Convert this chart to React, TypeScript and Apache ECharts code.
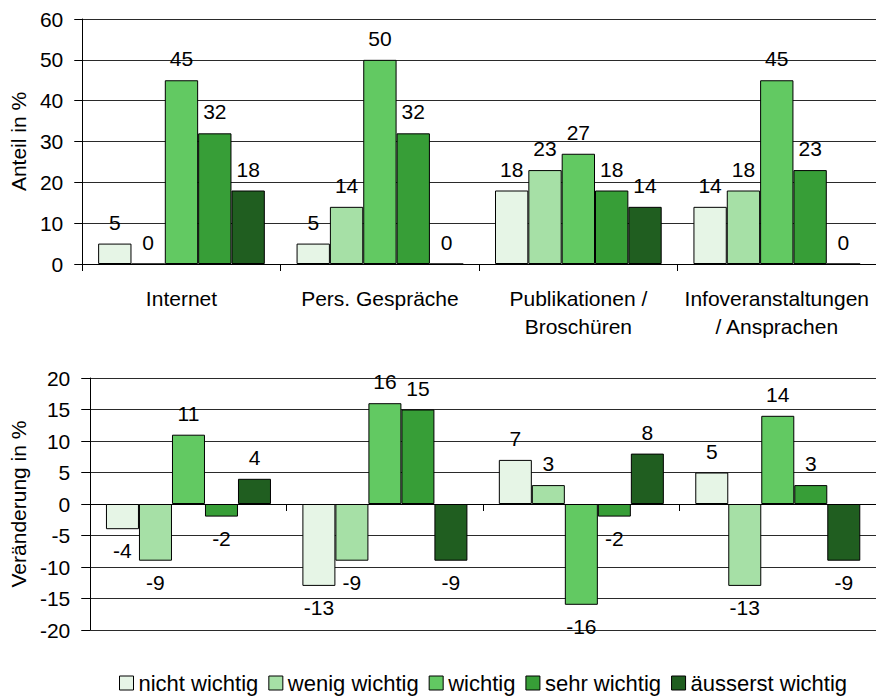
import React, { useEffect, useRef } from "react";
import * as echarts from "echarts";

// Information channels (category axis of both panels)
const categories = [
  "Internet",
  "Pers. Gespräche",
  "Publikationen /\nBroschüren",
  "Infoveranstaltungen\n/ Ansprachen",
];

// Importance levels and their fills
const levels = [
  "nicht wichtig",
  "wenig wichtig",
  "wichtig",
  "sehr wichtig",
  "äusserst wichtig",
];
const levelColors = ["#e6f5e6", "#a6e0a6", "#62c962", "#379e37", "#205e20"];

// Upper panel: share in %
const shareNicht = [5, 5, 18, 14];
const shareWenig = [0, 14, 23, 18];
const shareWichtig = [45, 50, 27, 45];
const shareSehr = [32, 32, 18, 23];
const shareAeusserst = [18, 0, 14, 0];

// Lower panel: change in percentage points
const changeNicht = [-4, -13, 7, 5];
const changeWenig = [-9, -9, 3, -13];
const changeWichtig = [11, 16, -16, 14];
const changeSehr = [-2, 15, -2, 3];
const changeAeusserst = [4, -9, 8, -9];

// Axis ranges
const shareAxis = { min: 0, max: 60, interval: 10 };
const changeAxis = { min: -20, max: 20, interval: 5 };

const shareSeries = [shareNicht, shareWenig, shareWichtig, shareSehr, shareAeusserst];
const changeSeries = [changeNicht, changeWenig, changeWichtig, changeSehr, changeAeusserst];

const FONT = "'Liberation Sans', Arial, sans-serif";
const TEXT = "#000";

export default function App() {
  const ref = useRef<HTMLDivElement>(null);

  useEffect(() => {
    if (!ref.current) return;
    const chart = echarts.init(ref.current, null, { renderer: "svg" });

    const gridLine = { show: true, lineStyle: { color: "#2a2a2a", width: 1 } };
    const axisLine = { show: true, lineStyle: { color: "#000", width: 1 } };

    const makeBars = (values: number[][], gridIndex: number) =>
      values.map((vals, i) => ({
        name: levels[i],
        type: "bar",
        xAxisIndex: gridIndex,
        yAxisIndex: gridIndex,
        barGap: "0%",
        barCategoryGap: "16%",
        itemStyle: { color: levelColors[i], borderColor: "#000", borderWidth: 1 },
        label: {
          show: true,
          color: TEXT,
          fontFamily: FONT,
          fontSize: 21,
          distance: 11,
        },
        data: vals.map((v) => ({
          value: v,
          label: { position: v < 0 ? "bottom" : "top" },
        })),
      }));

    chart.setOption({
      animation: false,
      backgroundColor: "#fff",
      textStyle: { fontFamily: FONT, color: TEXT },
      legend: {
        data: levels,
        left: 119,
        top: 672,
        padding: 0,
        icon: "rect",
        itemWidth: 14,
        itemHeight: 14,
        itemGap: 10,
        textStyle: { fontFamily: FONT, fontSize: 22, color: TEXT },
        itemStyle: { borderColor: "#000", borderWidth: 1 },
      },
      grid: [
        { left: 76, top: 19, width: 809, height: 245, containLabel: false },
        { left: 82, top: 378, width: 802, height: 252, containLabel: false },
      ],
      xAxis: [
        {
          type: "category",
          gridIndex: 0,
          data: categories,
          axisLine,
          axisTick: { show: true, length: 7, lineStyle: { color: "#000" } },
          axisLabel: {
            interval: 0,
            margin: 20,
            fontFamily: FONT,
            fontSize: 21,
            lineHeight: 28,
            color: TEXT,
          },
        },
        {
          type: "category",
          gridIndex: 1,
          data: categories,
          axisLine,
          axisTick: { show: true, length: 7, lineStyle: { color: "#000" } },
          axisLabel: { show: false },
        },
      ],
      yAxis: [
        {
          type: "value",
          gridIndex: 0,
          ...shareAxis,
          name: "Anteil in %",
          nameLocation: "middle",
          nameRotate: 90,
          nameGap: 42,
          nameTextStyle: { fontFamily: FONT, fontSize: 21, color: TEXT },
          axisLine,
          axisTick: { show: true, length: 8, lineStyle: { color: "#000" } },
          axisLabel: { margin: 19, fontFamily: FONT, fontSize: 21, color: TEXT },
          splitLine: gridLine,
        },
        {
          type: "value",
          gridIndex: 1,
          ...changeAxis,
          name: "Veränderung in %",
          nameLocation: "middle",
          nameRotate: 90,
          nameGap: 47,
          nameTextStyle: { fontFamily: FONT, fontSize: 21, color: TEXT },
          axisLine,
          axisTick: { show: true, length: 9, lineStyle: { color: "#000" } },
          axisLabel: { margin: 20, fontFamily: FONT, fontSize: 21, color: TEXT },
          splitLine: gridLine,
        },
      ],
      series: [...makeBars(shareSeries, 0), ...makeBars(changeSeries, 1)],
    });

    return () => chart.dispose();
  }, []);

  return (
    <div
      ref={ref}
      style={{ position: "absolute", left: 0, top: 0, width: 876, height: 697 }}
    />
  );
}
